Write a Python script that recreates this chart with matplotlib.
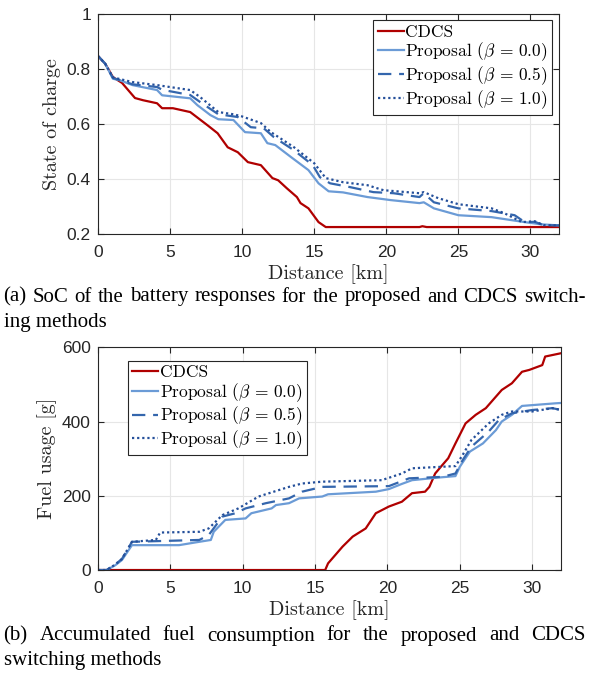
import matplotlib
matplotlib.use("Agg")
import matplotlib.pyplot as plt

# SoC data (distance km, state of charge)
soc_cdcs_x = [0, 0.5, 1.04, 1.67, 2.57, 3.13, 4.1, 4.45, 5.2, 6.4, 6.5, 7.6, 8.3, 9.0, 9.7,
              10.4, 11.3, 12.1, 12.5, 13.1, 13.8, 14.05, 14.6, 15.3, 15.8, 22.3, 22.5, 22.8, 32]
soc_cdcs_y = [0.848, 0.82, 0.771, 0.75, 0.695, 0.687, 0.676, 0.658, 0.658, 0.644, 0.64, 0.596, 0.567,
              0.516, 0.498, 0.462, 0.451, 0.404, 0.396, 0.367, 0.335, 0.313, 0.294, 0.244, 0.226,
              0.226, 0.229, 0.226, 0.226]

soc_p00_x = [0, 0.5, 1.04, 1.5, 2.4, 4.1, 4.45, 6.4, 6.9, 7.8, 8.35, 9.4, 10.2, 11.3, 11.75, 12.3,
             13.4, 14.6, 15.3, 16.0, 17.0, 18.7, 20.3, 22.3, 22.6, 23.3, 25.0, 27.3, 28.7, 29.6,
             30.7, 32]
soc_p00_y = [0.848, 0.82, 0.765, 0.76, 0.742, 0.724, 0.705, 0.694, 0.669, 0.633, 0.618, 0.615, 0.571,
             0.567, 0.531, 0.524, 0.48, 0.433, 0.385, 0.356, 0.352, 0.335, 0.324, 0.313, 0.316,
             0.294, 0.269, 0.262, 0.251, 0.244, 0.236, 0.232]

soc_p05_x = [0, 0.5, 1.04, 2.4, 4.1, 4.45, 6.4, 7.1, 8.35, 9.7, 10.6, 11.5, 12.2, 13.6, 14.9, 15.4,
             16.1, 17.5, 19.1, 20.5, 22.3, 22.6, 23.3, 25.0, 27.3, 28.9, 29.6, 30.3, 30.9, 32]
soc_p05_y = [0.848, 0.82, 0.768, 0.745, 0.735, 0.725, 0.706, 0.68, 0.636, 0.626, 0.589, 0.585, 0.553,
             0.505, 0.451, 0.407, 0.385, 0.371, 0.353, 0.349, 0.335, 0.349, 0.316, 0.294, 0.284,
             0.269, 0.244, 0.245, 0.233, 0.232]

soc_p10_x = [0, 0.5, 1.04, 2.4, 4.1, 6.4, 7.1, 8.35, 9.4, 10.0, 11.3, 12.0, 13.6, 15.0, 15.8, 17.0,
             18.7, 19.8, 22.3, 22.6, 23.6, 25.0, 27.3, 28.2, 29.4, 30.3, 30.9, 32]
soc_p10_y = [0.848, 0.82, 0.77, 0.753, 0.742, 0.724, 0.698, 0.644, 0.636, 0.628, 0.604, 0.571, 0.516,
             0.458, 0.404, 0.389, 0.378, 0.36, 0.349, 0.353, 0.331, 0.309, 0.294, 0.276, 0.244,
             0.247, 0.233, 0.232]

# fuel data (distance km, grams)
fuel_cdcs_x = [0, 15.7, 15.9, 16.9, 17.6, 18.5, 19.2, 20.1, 21.0, 21.7, 22.6, 22.9, 23.3, 23.8,
               24.2, 24.7, 25.4, 26.1, 26.8, 27.9, 28.6, 29.3, 29.8, 30.7, 30.9, 32]
fuel_cdcs_y = [0, 0, 18, 63, 90, 112, 153, 171, 184, 207, 211, 224, 260, 283, 301, 341, 395, 418,
               436, 485, 503, 534, 539, 552, 575, 584]

fuel_p00_x = [0, 0.6, 1.2, 1.66, 2.35, 5.6, 7.0, 7.8, 8.0, 8.8, 10.2, 10.6, 12.0, 12.3, 13.2, 13.9,
              15.5, 15.9, 19.2, 20.1, 21.0, 21.7, 23.5, 24.7, 25.0, 25.7, 26.6, 27.5, 27.9, 28.6,
              29.3, 31.6, 32]
fuel_p00_y = [0, 0, 13, 27, 67, 67, 76, 81, 103, 135, 139, 153, 166, 175, 180, 193, 198, 204, 211,
              218, 232, 242, 249, 253, 278, 319, 341, 377, 400, 418, 442, 449, 450]

fuel_p05_x = [0, 0.6, 1.2, 1.66, 2.35, 7.0, 7.65, 8.6, 9.5, 10.2, 11.6, 13.2, 14.1, 15.5, 20.1,
              21.5, 23.8, 24.7, 25.2, 25.8, 27.0, 27.7, 28.6, 30.0, 31.4, 32]
fuel_p05_y = [0, 0, 15, 30, 76, 81, 94, 144, 153, 166, 180, 193, 211, 224, 226, 247, 251, 260, 296,
              332, 373, 404, 422, 431, 436, 431]

fuel_p10_x = [0, 0.6, 1.2, 1.66, 2.35, 4.0, 4.3, 7.0, 7.65, 8.6, 9.7, 11.1, 13.2, 14.1, 15.5, 19.6,
              21.0, 21.7, 24.7, 25.2, 25.8, 27.0, 27.9, 28.6, 30.0, 31.4, 32]
fuel_p10_y = [0, 0, 15, 30, 76, 81, 101, 103, 112, 148, 166, 198, 224, 233, 238, 242, 260, 274, 280,
              310, 350, 395, 418, 427, 427, 436, 431]

labels = ['CDCS', r'Proposal ($\beta$ = 0.0)', r'Proposal ($\beta$ = 0.5)', r'Proposal ($\beta$ = 1.0)']
c_red = '#b00000'
c_p00 = '#6b9bd6'
c_p05 = '#3466ad'
c_p10 = '#244f9a'
axcol = '#262626'

plt.rcParams['mathtext.fontset'] = 'cm'
plt.rcParams['font.family'] = ['Liberation Sans', 'DejaVu Sans']

fig = plt.figure(figsize=(5.9, 6.73), dpi=100)
ax1 = fig.add_axes([0.166, 0.652, 0.782, 0.327])
ax2 = fig.add_axes([0.166, 0.153, 0.785, 0.331])


def style(ax):
    ax.grid(True, color='#e6e6e6', linewidth=0.8)
    ax.set_axisbelow(True)
    ax.tick_params(direction='in', top=True, right=True, labelsize=12.5, colors=axcol,
                   length=4, width=0.8, pad=5)
    ax.tick_params(axis='x', pad=8)
    for s in ax.spines.values():
        s.set_color(axcol)
        s.set_linewidth(0.8)
    ax.set_xlim(0, 32)
    ax.set_xticks([0, 5, 10, 15, 20, 25, 30])
    ax.set_xlabel('Distance [km]', family='cmr10', fontsize=14.5, color=axcol, labelpad=3)


def draw(ax, data):
    lines = []
    (x0, y0), (x1, y1), (x2, y2), (x3, y3) = data
    lines += ax.plot(x0, y0, color=c_red, lw=1.6)
    lines += ax.plot(x1, y1, color=c_p00, lw=1.6)
    lines += ax.plot(x2, y2, color=c_p05, lw=1.6, dashes=(6, 3.5))
    lines += ax.plot(x3, y3, color=c_p10, lw=1.6, dashes=(1, 1.3))
    return lines


def legend(ax, lines, loc, anchor):
    leg = ax.legend(lines, labels, loc=loc, bbox_to_anchor=anchor, borderaxespad=0,
                    fontsize=12.5, handlelength=1.5, handletextpad=0.1, borderpad=0.25,
                    labelspacing=0.05, fancybox=False, framealpha=1, edgecolor=axcol)
    leg.get_frame().set_linewidth(0.8)
    for t in leg.get_texts():
        t.set_family('cmr10')


l1 = draw(ax1, [(soc_cdcs_x, soc_cdcs_y), (soc_p00_x, soc_p00_y),
                (soc_p05_x, soc_p05_y), (soc_p10_x, soc_p10_y)])
style(ax1)
ax1.set_ylim(0.2, 1)
ax1.set_yticks([0.2, 0.4, 0.6, 0.8, 1.0])
ax1.set_yticklabels(['0.2', '0.4', '0.6', '0.8', '1'])
ax1.set_ylabel('State of charge', family='cmr10', fontsize=14.5, color=axcol, labelpad=4)
legend(ax1, l1, 'upper right', (0.985, 0.973))

l2 = draw(ax2, [(fuel_cdcs_x, fuel_cdcs_y), (fuel_p00_x, fuel_p00_y),
                (fuel_p05_x, fuel_p05_y), (fuel_p10_x, fuel_p10_y)])
style(ax2)
ax2.set_ylim(0, 600)
ax2.set_yticks([0, 200, 400, 600])
ax2.set_ylabel('Fuel usage [g]', family='cmr10', fontsize=14.5, color=axcol, labelpad=4)
legend(ax2, l2, 'upper left', (0.065, 0.94))


# captions, justified like the paper
def justify(words, y, x0=0.006, x1=0.992, size=15):
    fig.canvas.draw()
    r = fig.canvas.get_renderer()
    ts = [fig.text(0, y, w, fontsize=size, family='Liberation Serif', va='center') for w in words]
    widths = [t.get_window_extent(r).width / fig.bbox.width for t in ts]
    gap = (x1 - x0 - sum(widths)) / (len(ts) - 1)
    x = x0
    for t, w in zip(ts, widths):
        t.set_x(x)
        x += w + gap


def plain(s, y, size=15):
    fig.text(0.006, y, s, fontsize=size, family='Liberation Serif', va='center')


justify('(a) SoC of the battery responses for the proposed and CDCS switch-'.split(), 1 - 297 / 673)
plain('ing methods', 1 - 322 / 673)
justify('(b) Accumulated fuel consumption for the proposed and CDCS'.split(), 1 - 636 / 673)
plain('switching methods', 1 - 660 / 673)

fig.savefig('out.png', dpi=100)
